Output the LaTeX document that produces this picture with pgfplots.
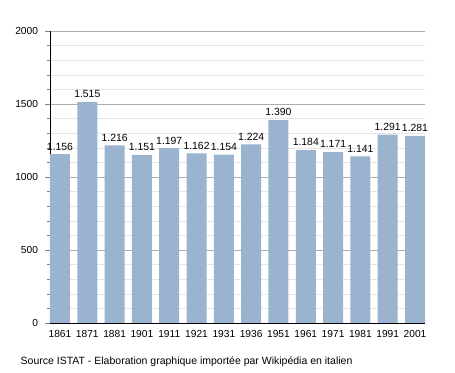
\documentclass[border=0pt]{standalone}
\usepackage{pgfplots}
\pgfplotsset{compat=1.18}
\usetikzlibrary{calc}
\usepackage{fontspec}
\setmainfont{Liberation Sans}
\definecolor{barc}{RGB}{154,180,207}
\begin{document}
\begin{tikzpicture}
\begin{axis}[
  name=ax,
  scale only axis,
  width=375pt, height=292pt,
  xmin=-0.366, xmax=13.366,
  ymin=0, ymax=2000,
  axis lines=left,
  axis line style={-, black},
  xtick=data,
  xticklabels={1861,1871,1881,1901,1911,1921,1931,1936,1951,1961,1971,1981,1991,2001},
  x tick label style={font=\fontsize{10.2}{11}\selectfont, yshift=1pt},
  xtick style={draw=none},
  ytick={0,500,1000,1500,2000},
  minor y tick num=4,
  tick align=outside,
  major tick length=4.5pt,
  minor tick length=3pt,
  y tick label style={font=\fontsize{10.2}{11}\selectfont, xshift=-4pt},
  ymajorgrids, yminorgrids,
  major grid style={draw=black!32},
  minor grid style={draw=black!10},
  /pgf/number format/assume math mode=true,
  /pgf/number format/1000 sep={},
  ybar,
  bar width=20pt,
  nodes near coords,
  every node near coord/.append style={font=\fontsize{10.4}{11}\selectfont, /pgf/number format/1000 sep={.}, yshift=0.5pt},
  clip=false,
]
\addplot[fill=barc, draw=none] coordinates {
(0,1156) (1,1515) (2,1216) (3,1151) (4,1197) (5,1162) (6,1154)
(7,1224) (8,1390) (9,1184) (10,1171) (11,1141) (12,1291) (13,1281)};
\end{axis}
\node[anchor=west, font=\fontsize{10.5}{11}\selectfont, inner sep=0pt] at ($(ax.south west)+(-29.5pt,-39pt)$) {Source ISTAT - Elaboration graphique importée par Wikipédia en italien};
\path[use as bounding box] ($(ax.south west)+(-50pt,-50pt)$) rectangle ($(ax.north east)+(30pt,31pt)$);
\end{tikzpicture}
\end{document}
